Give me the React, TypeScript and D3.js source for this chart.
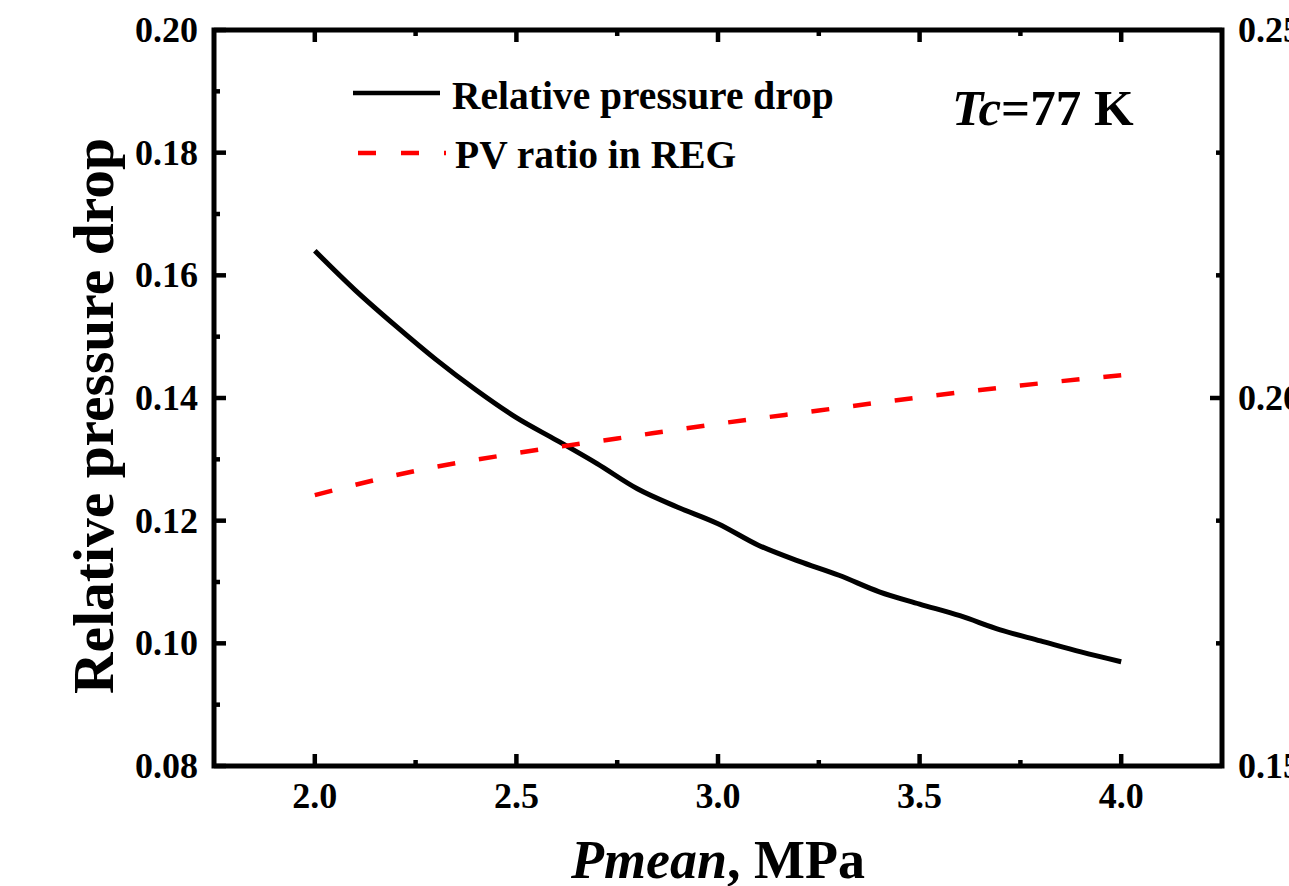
import React from "react";
import * as d3 from "d3";

const pressures = [2.0, 2.1, 2.2, 2.3, 2.4, 2.5, 2.6, 2.7, 2.8, 2.9, 3.0, 3.1, 3.2, 3.3, 3.4, 3.5, 3.6, 3.7, 3.8, 3.9, 4.0];
const relDrop = [0.164, 0.1576, 0.1518, 0.1463, 0.1413, 0.1368, 0.1331, 0.1293, 0.1252, 0.1222, 0.1195, 0.116, 0.1134, 0.1111, 0.1084, 0.1064, 0.1045, 0.1022, 0.1004, 0.0986, 0.097];

const pvPressures = [2.0, 2.25, 2.5, 2.75, 3.0, 3.25, 3.5, 3.75, 4.0];
const pvRatio = [0.1868, 0.1901, 0.1925, 0.1945, 0.1965, 0.1983, 0.2001, 0.2017, 0.2031];

const xTicks = [2.0, 2.5, 3.0, 3.5, 4.0];
const xMinor = [2.25, 2.75, 3.25, 3.75];
const yLeftTicks = [0.08, 0.1, 0.12, 0.14, 0.16, 0.18, 0.2];
const yLeftMinor = [0.09, 0.11, 0.13, 0.15, 0.17, 0.19];
const yRightTicks = [0.15, 0.2, 0.25];
const yRightMinor = [0.15 + 0.05 / 3, 0.15 + 0.1 / 3, 0.2 + 0.05 / 3, 0.2 + 0.1 / 3];

const legendLabels = ["Relative pressure drop", "PV ratio in REG"];

export default function App() {
  const L = 214, R = 1222, T = 30, B = 766;
  const x = d3.scaleLinear().domain([1.75, 4.25]).range([L, R]);
  const yL = d3.scaleLinear().domain([0.08, 0.2]).range([B, T]);
  const yR = d3.scaleLinear().domain([0.15, 0.25]).range([B, T]);

  const blackLine = d3.line<number>().x((_, i) => x(pressures[i])).y((d) => yL(d)).curve(d3.curveMonotoneX)(relDrop) || "";
  const redLine = d3.line<number>().x((_, i) => x(pvPressures[i])).y((d) => yR(d)).curve(d3.curveMonotoneX)(pvRatio) || "";

  const font = "'Liberation Serif', 'Times New Roman', serif";
  const sw = 4.5;
  const major = 12;
  const minor = 6;
  const fmt2 = d3.format(".2f");
  const fmt1 = d3.format(".1f");

  return (
    <svg width={1289} height={886} style={{ position: "absolute", left: 0, top: 0, background: "#fff" }} fontFamily={font} fontWeight="bold">
      <rect x={0} y={0} width={1289} height={886} fill="#fff" />
      {/* data */}
      <path d={blackLine} fill="none" stroke="#000" strokeWidth={5} />
      <path d={redLine} fill="none" stroke="#ff0000" strokeWidth={4.5} strokeDasharray="18 24" />

      {/* frame */}
      <rect x={L} y={T} width={R - L} height={B - T} fill="none" stroke="#000" strokeWidth={5} />

      {/* bottom & top ticks */}
      {xTicks.map((t) => (
        <g key={"xt" + t}>
          <line x1={x(t)} x2={x(t)} y1={B} y2={B - major} stroke="#000" strokeWidth={sw} />
          <line x1={x(t)} x2={x(t)} y1={T} y2={T + major} stroke="#000" strokeWidth={sw} />
          <text x={x(t)} y={808} textAnchor="middle" fontSize={36}>{fmt1(t)}</text>
        </g>
      ))}
      {xMinor.map((t) => (
        <g key={"xm" + t}>
          <line x1={x(t)} x2={x(t)} y1={B} y2={B - minor} stroke="#000" strokeWidth={sw} />
          <line x1={x(t)} x2={x(t)} y1={T} y2={T + minor} stroke="#000" strokeWidth={sw} />
        </g>
      ))}

      {/* left ticks */}
      {yLeftTicks.map((t) => (
        <g key={"yl" + t}>
          <line x1={L} x2={L + major} y1={yL(t)} y2={yL(t)} stroke="#000" strokeWidth={sw} />
          <text x={198} y={yL(t) + 12} textAnchor="end" fontSize={36}>{fmt2(t)}</text>
        </g>
      ))}
      {yLeftMinor.map((t) => (
        <line key={"ylm" + t} x1={L} x2={L + minor} y1={yL(t)} y2={yL(t)} stroke="#000" strokeWidth={sw} />
      ))}

      {/* right ticks */}
      {yRightTicks.map((t) => (
        <g key={"yr" + t}>
          <line x1={R} x2={R - major} y1={yR(t)} y2={yR(t)} stroke="#000" strokeWidth={sw} />
          <text x={1238} y={yR(t) + 12} textAnchor="start" fontSize={36}>{fmt2(t)}</text>
        </g>
      ))}
      {yRightMinor.map((t) => (
        <line key={"yrm" + t} x1={R} x2={R - minor} y1={yR(t)} y2={yR(t)} stroke="#000" strokeWidth={sw} />
      ))}

      {/* axis titles */}
      <text transform="translate(113,416) rotate(-90)" textAnchor="middle" fontSize={57.5}>Relative pressure drop</text>
      <text x={718} y={878} textAnchor="middle" fontSize={54}>
        <tspan fontStyle="italic">Pmean</tspan>
        <tspan>, MPa</tspan>
      </text>

      {/* legend */}
      <line x1={353} x2={440} y1={93} y2={93} stroke="#000" strokeWidth={4.5} />
      <text x={452} y={109} fontSize={39.5}>{legendLabels[0]}</text>
      <line x1={358} x2={446} y1={153} y2={153} stroke="#ff0000" strokeWidth={4.5} strokeDasharray="18 25" />
      <text x={455} y={168} fontSize={39.5}>{legendLabels[1]}</text>

      {/* annotation */}
      <text x={952} y={125} fontSize={51}>
        <tspan fontStyle="italic">Tc</tspan>
        <tspan>=77 K</tspan>
      </text>
    </svg>
  );
}
